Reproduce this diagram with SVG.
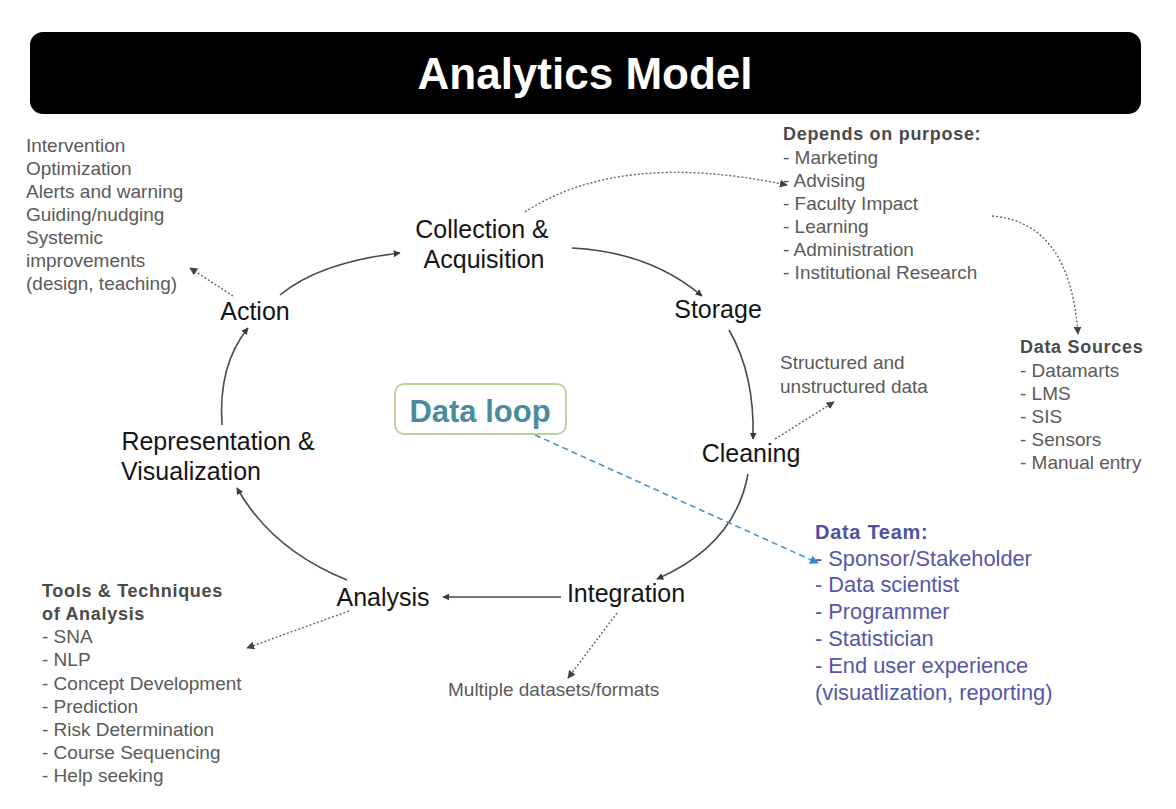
<svg xmlns="http://www.w3.org/2000/svg" width="1176" height="809" viewBox="0 0 1176 809">
<style>
.node{font-family:"Liberation Sans",Arial,sans-serif;font-size:25px;fill:#151515;text-anchor:middle}
.side{font-family:"Liberation Sans",Arial,sans-serif;font-size:19px;fill:#5a5a5a}
.head{font-family:"Liberation Sans",Arial,sans-serif;font-size:18px;font-weight:bold;fill:#4a4a4a;letter-spacing:0.7px}
.team{font-family:"Liberation Sans",Arial,sans-serif;font-size:21.8px;fill:#5558a6}
.teamh{font-family:"Liberation Sans",Arial,sans-serif;font-size:20px;font-weight:bold;fill:#4f52a0;letter-spacing:0.7px}
.solid{fill:none;stroke:#4a4a4a;stroke-width:1.6;marker-end:url(#ah)}
.dot{fill:none;stroke:#666;stroke-width:1.4;stroke-dasharray:2 2;marker-end:url(#ahd)}
.blue{fill:none;stroke:#4a94c8;stroke-width:1.6;stroke-dasharray:6 4;marker-end:url(#ahb)}
</style>
<defs>
<marker id="ah" viewBox="0 0 10 10" refX="9" refY="5" markerWidth="7" markerHeight="7" markerUnits="userSpaceOnUse" orient="auto"><path d="M0,0 L10,5 L0,10 z" fill="#3a3a3a"/></marker>
<marker id="ahd" viewBox="0 0 10 10" refX="9" refY="5" markerWidth="8" markerHeight="8" markerUnits="userSpaceOnUse" orient="auto"><path d="M0,0 L10,5 L0,10 z" fill="#444"/></marker>
<marker id="ahb" viewBox="0 0 10 10" refX="9" refY="5" markerWidth="9" markerHeight="9" markerUnits="userSpaceOnUse" orient="auto"><path d="M0,0 L10,5 L0,10 z" fill="#3a86bf"/></marker>
</defs>
<rect width="1176" height="809" fill="#ffffff"/>
<g id="title">
<rect x="30" y="32" width="1111" height="82" rx="13" ry="13" fill="#000"/>
<text x="585" y="89" font-family="Liberation Sans,Arial,sans-serif" font-size="44" font-weight="bold" fill="#fff" text-anchor="middle">Analytics Model</text>
</g>
<g id="connectors">
<path class="solid" d="M280,295 Q320,262 400,253"/>
<path class="solid" d="M572,248 Q650,252 702,296"/>
<path class="solid" d="M729,330 Q755,375 753,439"/>
<path class="solid" d="M748,474 Q735,545 657,579"/>
<path class="solid" d="M561,597 L443,597"/>
<path class="solid" d="M347,580 Q272,550 237,488"/>
<path class="solid" d="M222,425 Q218,365 248,328"/>
<path class="dot" d="M233,296 L190,268"/>
<path class="dot" d="M525,212 Q620,150 787,185"/>
<path class="dot" d="M992,216 Q1070,222 1078,334"/>
<path class="dot" d="M775,439 L834,402"/>
<path class="dot" d="M617,613 L568,678"/>
<path class="dot" d="M349,611 L247,648"/>
<path class="blue" d="M535,435 L818,563"/>
</g>
<g id="collection"><text class="node" x="482" y="238">Collection &amp;</text><text class="node" x="484" y="268">Acquisition</text></g>
<g id="storage"><text class="node" x="718" y="318">Storage</text></g>
<g id="cleaning"><text class="node" x="751" y="462">Cleaning</text></g>
<g id="integration"><text class="node" x="626" y="602">Integration</text></g>
<g id="analysis"><text class="node" x="383" y="606">Analysis</text></g>
<g id="representation"><text class="node" x="218" y="450">Representation &amp;</text><text class="node" x="191" y="480">Visualization</text></g>
<g id="action"><text class="node" x="255" y="320">Action</text></g>
<g id="dataloop">
<rect x="395" y="384" width="171" height="50" rx="9" ry="9" fill="#fff" stroke="#b9d39a" stroke-width="1.8"/>
<text x="480" y="422" font-family="Liberation Sans,Arial,sans-serif" font-size="31" font-weight="bold" fill="#4a8c9e" text-anchor="middle">Data loop</text>
</g>
<g id="actions-list">
<text class="side" x="26" y="152">Intervention</text>
<text class="side" x="26" y="175">Optimization</text>
<text class="side" x="26" y="198">Alerts and warning</text>
<text class="side" x="26" y="221">Guiding/nudging</text>
<text class="side" x="26" y="244">Systemic</text>
<text class="side" x="26" y="267">improvements</text>
<text class="side" x="26" y="290">(design, teaching)</text>
</g>
<g id="purpose">
<text class="head" x="783" y="140">Depends on purpose:</text>
<text class="side" x="783" y="164">- Marketing</text>
<text class="side" x="783" y="187">- Advising</text>
<text class="side" x="783" y="210">- Faculty Impact</text>
<text class="side" x="783" y="233">- Learning</text>
<text class="side" x="783" y="256">- Administration</text>
<text class="side" x="783" y="279">- Institutional Research</text>
</g>
<g id="datasources">
<text class="head" x="1020" y="353">Data Sources</text>
<text class="side" x="1020" y="377">- Datamarts</text>
<text class="side" x="1020" y="400">- LMS</text>
<text class="side" x="1020" y="423">- SIS</text>
<text class="side" x="1020" y="446">- Sensors</text>
<text class="side" x="1020" y="469">- Manual entry</text>
</g>
<g id="structured">
<text class="side" x="780" y="369" font-size="18">Structured and</text>
<text class="side" x="780" y="393" font-size="18">unstructured data</text>
</g>
<g id="datateam">
<text class="teamh" x="815" y="539">Data Team:</text>
<text class="team" x="815" y="566">- Sponsor/Stakeholder</text>
<text class="team" x="815" y="592">- Data scientist</text>
<text class="team" x="815" y="619">- Programmer</text>
<text class="team" x="815" y="646">- Statistician</text>
<text class="team" x="815" y="673">- End user experience</text>
<text class="team" x="815" y="700">(visuatlization, reporting)</text>
</g>
<g id="tools">
<text class="head" x="42" y="597">Tools &amp; Techniques</text>
<text class="head" x="42" y="620">of Analysis</text>
<text class="side" x="42" y="643">- SNA</text>
<text class="side" x="42" y="666">- NLP</text>
<text class="side" x="42" y="690">- Concept Development</text>
<text class="side" x="42" y="713">- Prediction</text>
<text class="side" x="42" y="736">- Risk Determination</text>
<text class="side" x="42" y="759">- Course Sequencing</text>
<text class="side" x="42" y="782">- Help seeking</text>
</g>
<g id="multiple">
<text class="side" x="448" y="696" font-size="18">Multiple datasets/formats</text>
</g>
</svg>
